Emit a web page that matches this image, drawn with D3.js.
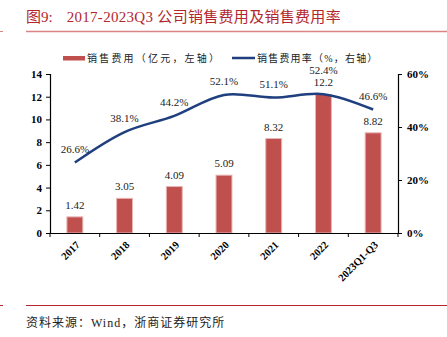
<!DOCTYPE html>
<html><head><meta charset="utf-8">
<script src="https://cdn.jsdelivr.net/npm/d3@7"></script>
<style>
body{margin:0;background:#fff;}
svg{display:block;}
</style></head>
<body>
<svg id="c" width="447" height="337"></svg>
<script>
const categories = ["2017","2018","2019","2020","2021","2022","2023Q1-Q3"];
const expense = [1.42, 3.05, 4.09, 5.09, 8.32, 12.2, 8.82];
const expenseLabels = ["1.42","3.05","4.09","5.09","8.32","12.2","8.82"];
const ratio = [26.6, 38.1, 44.2, 52.1, 51.1, 52.4, 46.6];
const leftTicks = [0,2,4,6,8,10,12,14];
const rightTicks = [0,20,40,60];
const titleLead = "图9:";
const titleMain = "2017-2023Q3 公司销售费用及销售费用率";
const legendBar = "销售费用（亿元，左轴）";
const legendLine = "销售费用率（%，右轴）";
const source = "资料来源：Wind，浙商证券研究所";

(function(){
const serif = "'Liberation Serif','Noto Sans CJK SC',serif";
const svg = d3.select("#c");
const pl = 50, pr = 398, pt = 74, pb = 233;

const x = d3.scaleBand().domain(categories).range([pl, pr]).paddingInner(0.68).paddingOuter(0.34);
const xb = d3.scaleBand().domain(categories).range([pl, pr]);
const yL = d3.scaleLinear().domain([0,14]).range([pb, pt]);
const yR = d3.scaleLinear().domain([0,60]).range([pb, pt]);

// title
const t = svg.append("text").attr("x",26).attr("y",22).attr("fill","#b3262d")
  .style("font-family",serif).style("font-size","15px");
t.append("tspan").text(titleLead);
t.append("tspan").attr("dx",14).style("letter-spacing","0.3px").text(titleMain);
svg.append("line").attr("x1",26).attr("x2",447).attr("y1",31.5).attr("y2",31.5).attr("stroke","#d98585").attr("stroke-width",1.5);
svg.append("line").attr("x1",0).attr("x2",3).attr("y1",31.5).attr("y2",31.5).attr("stroke","#d98585").attr("stroke-width",1);

// legend
svg.append("rect").attr("x",63).attr("y",56).attr("width",22).attr("height",4.5).attr("fill","#c0504d");
svg.append("text").attr("x",87).attr("y",62).style("font-family",serif).style("font-size","10px")
  .style("letter-spacing","2.2px").attr("fill","#222").text(legendBar);
svg.append("line").attr("x1",232).attr("x2",255).attr("y1",58).attr("y2",58).attr("stroke","#1f3f7f").attr("stroke-width",2.5);
svg.append("text").attr("x",257).attr("y",62).style("font-family",serif).style("font-size","10px")
  .style("letter-spacing","1.2px").attr("fill","#222").text(legendLine);

// bars
svg.append("g").selectAll("rect").data(expense).join("rect")
  .attr("x",(d,i)=>x(categories[i])).attr("width",x.bandwidth())
  .attr("y",d=>yL(d)).attr("height",d=>pb-yL(d))
  .attr("fill","#c0504d").attr("stroke","#e8b4b3").attr("stroke-width",1);

// line
const line = d3.line().x((d,i)=>xb(categories[i])+xb.bandwidth()/2).y(d=>yR(d)).curve(d3.curveCatmullRom.alpha(0.5));
svg.append("path").datum(ratio).attr("d",line).attr("fill","none").attr("stroke","#1f3f7f").attr("stroke-width",2.5);

// bar labels
const barLabelY = expense.map(d=>yL(d)-8);
svg.append("g").selectAll("text").data(expense).join("text")
  .attr("x",(d,i)=>x(categories[i])+x.bandwidth()/2).attr("y",(d,i)=>barLabelY[i])
  .attr("text-anchor","middle").style("font-family",serif).style("font-size","11px").attr("fill","#222")
  .text((d,i)=>expenseLabels[i]);
// ratio labels (avoid collision with bar label)
const ratioLabelY = ratio.map((d,i)=>{
  let y = yR(d)-10;
  if (Math.abs(y-barLabelY[i]) < 12) y = Math.min(y, barLabelY[i]-12);
  return y;
});
svg.append("g").selectAll("text").data(ratio).join("text")
  .attr("x",(d,i)=>xb(categories[i])+xb.bandwidth()/2).attr("y",(d,i)=>ratioLabelY[i])
  .attr("text-anchor","middle").style("font-family",serif).style("font-size","11px").attr("fill","#222")
  .text(d=>d.toFixed(1)+"%");

// axes
const axL = svg.append("g").attr("transform",`translate(${pl},0)`)
  .call(d3.axisLeft(yL).tickValues(leftTicks).tickSize(4).tickPadding(4));
const axR = svg.append("g").attr("transform",`translate(${pr},0)`)
  .call(d3.axisRight(yR).tickValues(rightTicks).tickFormat(d=>d+"%").tickSize(4).tickPadding(5));
const axX = svg.append("g").attr("transform",`translate(0,${pb})`)
  .call(d3.axisBottom(xb).tickSize(0).tickFormat(""));
axX.selectAll(".tick").remove();
svg.append("g").selectAll("line").data(d3.range(categories.length+1)).join("line")
  .attr("x1",i=>pl+i*xb.step()).attr("x2",i=>pl+i*xb.step())
  .attr("y1",pb).attr("y2",pb+4).attr("stroke","#000");
svg.append("g").selectAll("text").data(categories).join("text")
  .attr("transform",d=>`translate(${xb(d)+xb.bandwidth()/2+3},${pb+10}) rotate(-45)`)
  .attr("text-anchor","end").attr("dy","0.35em").style("font-family",serif).style("font-size","10.5px")
  .style("font-weight","bold").attr("fill","#000").text(d=>d);

[axL,axR,axX].forEach(a=>{
  a.select(".domain").attr("stroke","#000").attr("stroke-width",1.2);
  a.selectAll(".tick line").attr("stroke","#000");
  a.selectAll(".tick text").style("font-family",serif).style("font-size","11px").style("font-weight","bold").attr("fill","#000");
});

// footer
svg.append("line").attr("x1",26).attr("x2",447).attr("y1",305.5).attr("y2",305.5).attr("stroke","#b3262d").attr("stroke-width",1);
svg.append("line").attr("x1",0).attr("x2",3).attr("y1",305.5).attr("y2",305.5).attr("stroke","#b3262d").attr("stroke-width",1);
svg.append("text").attr("x",26).attr("y",327).style("font-family",serif).style("font-size","12px")
  .style("letter-spacing","1px").attr("fill","#222").text(source);
})();
</script>
</body></html>
